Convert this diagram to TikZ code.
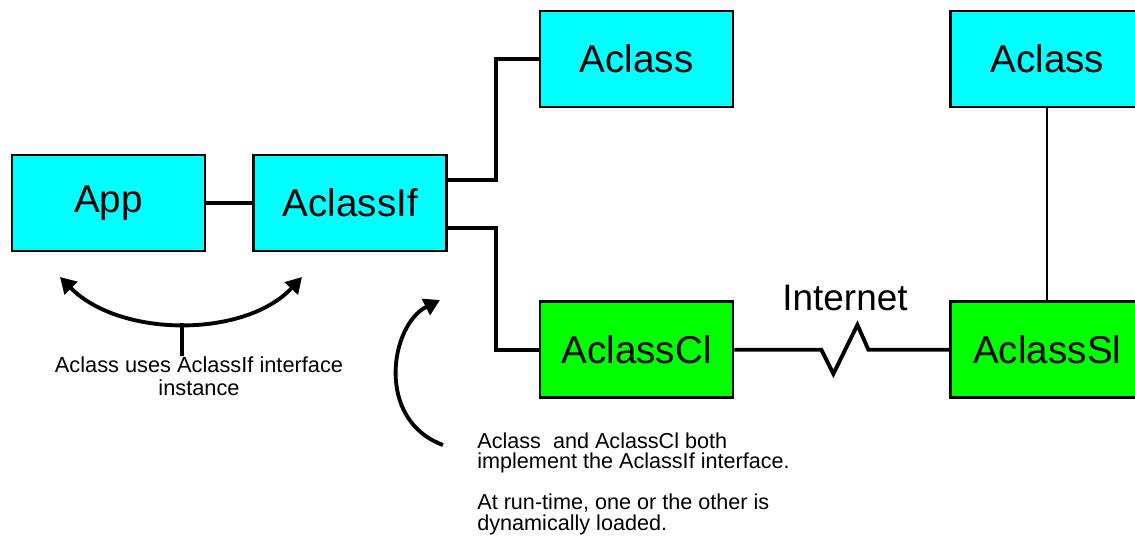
\documentclass[tikz,border=0pt]{standalone}
\usepackage{fontspec}
\setmainfont{Liberation Sans}
\usetikzlibrary{arrows.meta,positioning}
\definecolor{ifcyan}{HTML}{00FFFF}
\definecolor{implgreen}{HTML}{00FF00}
\tikzset{
  classbox/.style={
    rectangle, draw=black, line width=1.6pt,
    fill=ifcyan, text=black,
    font=\fontsize{22}{26}\selectfont,
    minimum width=3.86cm, minimum height=1.92cm,
    inner sep=0pt
  },
  proxybox/.style={classbox, fill=implgreen},
  wire/.style={line width=2.2pt, line join=miter},
  thinwire/.style={line width=1.1pt},
  bendarr/.style={line width=2.2pt, -{Triangle[length=9pt,width=10pt]}},
  note/.style={font=\fontsize{12.4}{13}\selectfont, align=center, inner sep=0pt},
}

\begin{document}
\begin{tikzpicture}
  \useasboundingbox (0,0) rectangle (22.7,-11.04);

  % local side
  \node[classbox] (app) at (2.17,-4.06) {App};
  \node[classbox, right=0.92cm of app] (ifc) {AclassIf};
  \node[classbox] (aclass) at (12.73,-1.18) {Aclass};
  \node[proxybox, below=3.84cm of aclass] (client) {AclassCl};

  % remote side
  \node[proxybox, right=4.3cm of client] (server) {AclassSl};
  \node[classbox, above=3.84cm of server] (aclassr) {Aclass};

  \node[font=\fontsize{21}{24}\selectfont, inner sep=0pt] (net) at (16.9,-5.96) {Internet};

  % Connectors
  \draw[wire] (app) -- (ifc);
  \draw[wire] ([yshift=0.46cm]ifc.east) -- ++(0.96,0) |- (aclass.west);
  \draw[wire] ([yshift=-0.5cm]ifc.east) -- ++(0.96,0) |- (client.west);
  \draw[wire] (client.east) -- ++(1.74,0) -- ++(0.24,-0.48)
    -- ++(0.48,0.98) -- ++(0.22,-0.5) -- (server.west);
  \draw[thinwire] (aclassr.south) -- (server.north);

  % Notes
  \node[note] (usesnote) at (3.98,-7.52)
    {Aclass uses AclassIf interface\\instance};
  \node[note, align=left, anchor=north west,
        font=\fontsize{12.3}{11.4}\selectfont] (implnote) at (9.54,-8.64)
    {Aclass~ and AclassCl both\\implement the AclassIf interface.\\[11.4pt]
     At run-time, one or the other is\\dynamically loaded.};

  % Arrows
  \coordinate (useL) at (1.2,-5.54);
  \coordinate (useR) at (6.04,-5.54);
  \coordinate (useM) at (3.64,-6.46);
  \draw[bendarr, {Triangle[length=9pt,width=10pt]}-{Triangle[length=9pt,width=10pt]}]
    (useL) .. controls (2.4,-6.76) and (4.9,-6.76) .. (useR);
  \draw[wire] (useM) -- (useM |- usesnote.north);

  \coordinate (implS) at (8.86,-8.9);
  \coordinate (implE) at (8.8,-6.0);
  \draw[bendarr] (implS) .. controls (7.5,-8.4) and (7.8,-6.5) .. (implE);
\end{tikzpicture}
\end{document}
